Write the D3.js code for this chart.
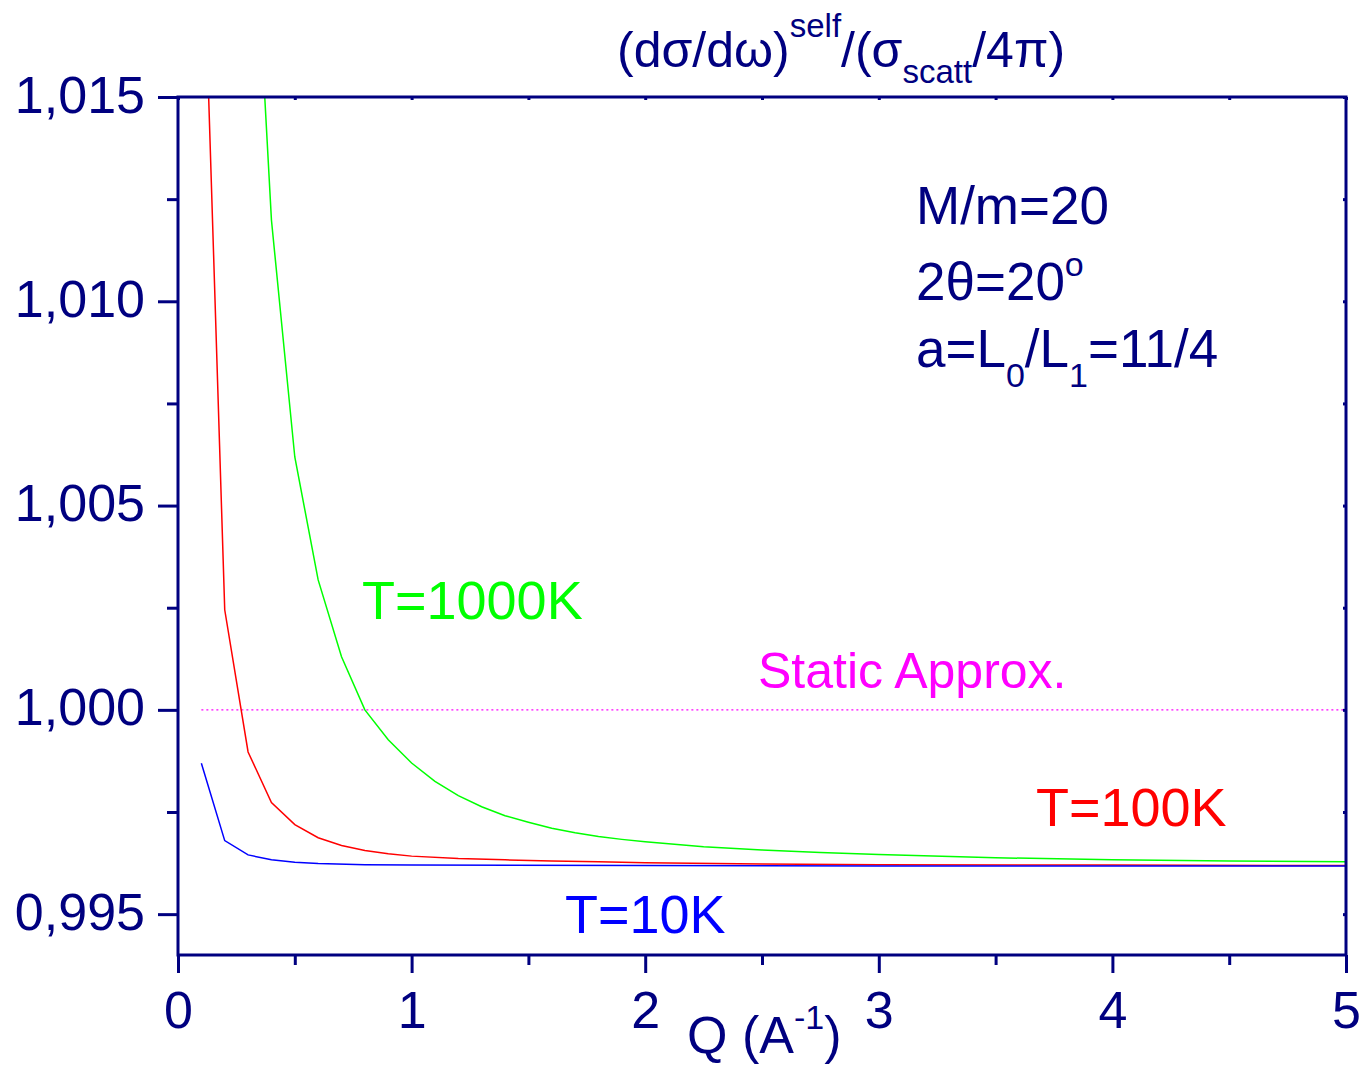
<!DOCTYPE html>
<html>
<head>
<meta charset="utf-8">
<script src="https://cdn.jsdelivr.net/npm/d3@7"></script>
<style>
  html, body { margin: 0; padding: 0; background: #fff; }
  svg { display: block; }
  text { font-family: "Liberation Sans", Arial, Helvetica, sans-serif; }
</style>
</head>
<body>
<svg id="chart" width="1364" height="1066"></svg>
<script>
// ---- data ----
const qT1000 = [0.3, 0.4, 0.5, 0.6, 0.7, 0.8, 0.9, 1.0, 1.1, 1.2, 1.3, 1.4, 1.5, 1.6, 1.7, 1.8, 1.9, 2.0, 2.25, 2.5, 2.75, 3.0, 3.5, 4.0, 4.5, 5.0];
const vT1000 = [1.0225, 1.01199, 1.00619, 1.00318, 1.0013, 1.0000, 0.99927, 0.99870, 0.99825, 0.99790, 0.99763, 0.99741, 0.99725, 0.99710, 0.99699, 0.99690, 0.99683, 0.99677, 0.99665, 0.99657, 0.99651, 0.99646, 0.99638, 0.99633, 0.99630, 0.99628];

const qT100 = [0.1, 0.2, 0.3, 0.4, 0.5, 0.6, 0.7, 0.8, 0.9, 1.0, 1.2, 1.4, 1.6, 1.8, 2.0, 2.5, 3.0, 4.0, 5.0];
const vT100 = [1.0207, 1.00245, 0.99897, 0.99773, 0.99719, 0.99687, 0.99668, 0.99656, 0.99648, 0.99642, 0.99636, 0.99633, 0.99630, 0.99628, 0.99626, 0.99623, 0.99621, 0.99620, 0.99619];

const qT10 = [0.1, 0.2, 0.3, 0.4, 0.5, 0.6, 0.8, 1.0, 2.0, 3.0, 5.0];
const vT10 = [0.998695, 0.99680, 0.99645, 0.99633, 0.99627, 0.99624, 0.99621, 0.99620, 0.99619, 0.99618, 0.99618];

const qStatic = [0.1, 5.0];
const vStatic = [1.0, 1.0];

const xTicks = [0, 1, 2, 3, 4, 5];
const xMinorTicks = [0.5, 1.5, 2.5, 3.5, 4.5];
const yTicks = [0.995, 1.000, 1.005, 1.010, 1.015];
const yTickLabels = ["0,995", "1,000", "1,005", "1,010", "1,015"];
const yMinorTicks = [0.9975, 1.0025, 1.0075, 1.0125];

// ---- layout ----
const NAVY = "#000080";
const L = 178, R = 1346, T = 97, B = 955;
const svg = d3.select("#chart");

const x = d3.scaleLinear().domain([0, 5]).range([L, R]);
const y = d3.scaleLinear().domain([0.994, 1.015]).range([B, T]);

svg.append("defs").append("clipPath").attr("id", "clip")
  .append("rect").attr("x", L).attr("y", T).attr("width", R - L).attr("height", B - T);

const plot = svg.append("g").attr("clip-path", "url(#clip)");
const line = d3.line().x(d => x(d[0])).y(d => y(d[1]));

function series(qs, vs, color, dash, width) {
  plot.append("path")
    .datum(qs.map((q, i) => [q, vs[i]]))
    .attr("d", line)
    .attr("fill", "none")
    .attr("stroke", color)
    .attr("stroke-width", width)
    .attr("stroke-dasharray", dash);
}
series(qStatic, vStatic, "#ff00ff", "2,3", 1.3);
series(qT1000, vT1000, "#00ff00", null, 1.5);
series(qT100, vT100, "#ff0000", null, 1.5);
series(qT10, vT10, "#0000ff", null, 1.5);

// ---- axes ----
const fs = 52;
const xAxis = d3.axisBottom(x).tickValues(xTicks).tickFormat(d3.format("d")).tickSize(18).tickPadding(16);
const gx = svg.append("g").attr("transform", `translate(0,${B})`).call(xAxis);
gx.select(".domain").remove();
gx.selectAll("line").attr("stroke", NAVY).attr("stroke-width", 3);
gx.selectAll("text").attr("fill", NAVY).attr("font-size", fs).attr("dy", null).attr("y", 73);

const xMinor = d3.axisBottom(x).tickValues(xMinorTicks).tickFormat("").tickSize(10);
const gxm = svg.append("g").attr("transform", `translate(0,${B})`).call(xMinor);
gxm.select(".domain").remove();
gxm.selectAll("line").attr("stroke", NAVY).attr("stroke-width", 3);

const yAxis = d3.axisLeft(y).tickValues(yTicks).tickFormat((d, i) => yTickLabels[i]).tickSize(20).tickPadding(12);
const gy = svg.append("g").attr("transform", `translate(${L},0)`).call(yAxis);
gy.select(".domain").remove();
gy.selectAll("line").attr("stroke", NAVY).attr("stroke-width", 3);
gy.selectAll("text").attr("fill", NAVY).attr("font-size", fs).attr("dy", null).attr("y", 15).attr("x", -33);

const yMinor = d3.axisLeft(y).tickValues(yMinorTicks).tickFormat("").tickSize(11);
const gym = svg.append("g").attr("transform", `translate(${L},0)`).call(yMinor);
gym.select(".domain").remove();
gym.selectAll("line").attr("stroke", NAVY).attr("stroke-width", 3);

// top & right small inward ticks
const xTop = d3.axisBottom(x).tickValues(xTicks.concat(xMinorTicks)).tickFormat("").tickSize(3);
const gxt = svg.append("g").attr("transform", `translate(0,${T})`).call(xTop);
gxt.select(".domain").remove();
gxt.selectAll("line").attr("stroke", NAVY).attr("stroke-width", 3);
const yRight = d3.axisLeft(y).tickValues(yTicks.concat(yMinorTicks)).tickFormat("").tickSize(3);
const gyr = svg.append("g").attr("transform", `translate(${R},0)`).call(yRight);
gyr.select(".domain").remove();
gyr.selectAll("line").attr("stroke", NAVY).attr("stroke-width", 3);

// frame
svg.append("rect").attr("x", L).attr("y", T).attr("width", R - L).attr("height", B - T)
  .attr("fill", "none").attr("stroke", NAVY).attr("stroke-width", 3);

// ---- texts ----
function txt(xp, yp, color, size) {
  return svg.append("text").attr("x", xp).attr("y", yp).attr("fill", color).attr("font-size", size);
}

// title
const title = txt(617, 67, NAVY, 50);
title.append("tspan").text("(dσ/dω)");
title.append("tspan").attr("font-size", 33).attr("dy", -30).text("self");
title.append("tspan").attr("dy", 30).text("/(σ");
title.append("tspan").attr("font-size", 33).attr("dy", 16).text("scatt");
title.append("tspan").attr("dy", -16).text("/4π)");

// x-axis title
const xt = txt(687, 1053, NAVY, 52);
xt.append("tspan").text("Q (A");
xt.append("tspan").attr("font-size", 34).attr("dy", -24).text("-1");
xt.append("tspan").attr("dy", 24).text(")");

// parameter annotations
txt(916, 224, NAVY, 53).text("M/m=20");
const a2 = txt(916, 300, NAVY, 53);
a2.append("tspan").text("2θ=20");
a2.append("tspan").attr("font-size", 34).attr("dy", -24).text("o");
const a3 = txt(916, 367, NAVY, 53);
a3.append("tspan").text("a=L");
a3.append("tspan").attr("font-size", 34).attr("dy", 20).text("0");
a3.append("tspan").attr("dy", -20).text("/L");
a3.append("tspan").attr("font-size", 34).attr("dy", 20).text("1");
a3.append("tspan").attr("dy", -20).text("=11/4");

// curve labels
txt(362, 619, "#00ff00", 54).text("T=1000K");
txt(758, 688, "#ff00ff", 50).text("Static Approx.");
txt(1036, 826, "#ff0000", 54).text("T=100K");
txt(565, 933, "#0000ff", 54).text("T=10K");
</script>
</body>
</html>
